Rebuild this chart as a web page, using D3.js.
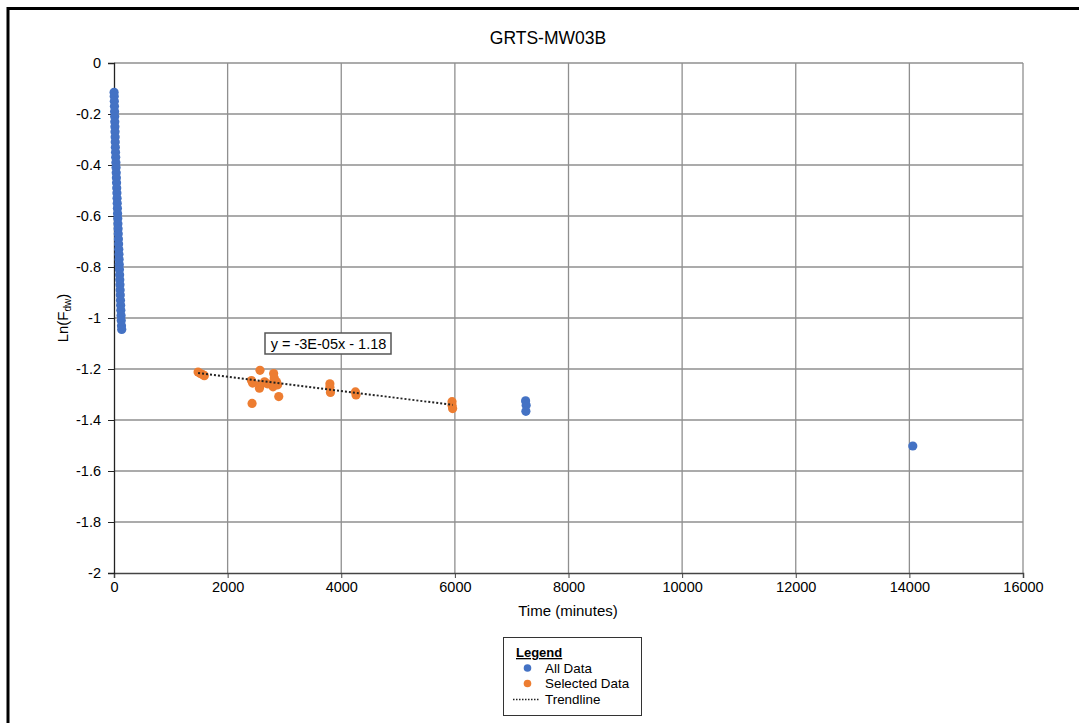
<!DOCTYPE html>
<html>
<head>
<meta charset="utf-8">
<script src="https://cdn.jsdelivr.net/npm/d3@7"></script>
<style>
  html, body { margin: 0; padding: 0; background: #fff; }
  svg { display: block; font-family: "Liberation Sans", Arial, sans-serif; }
</style>
</head>
<body>
<svg id="chart" width="1079" height="723"></svg>
<script>
// ---- Data ----
const chartTitle = "GRTS-MW03B";
const xTicks = [0, 2000, 4000, 6000, 8000, 10000, 12000, 14000, 16000];
const yTicks = [0, -0.2, -0.4, -0.6, -0.8, -1, -1.2, -1.4, -1.6, -1.8, -2];
const yTickLabels = ["0", "-0.2", "-0.4", "-0.6", "-0.8", "-1", "-1.2", "-1.4", "-1.6", "-1.8", "-2"];

// All Data: time (minutes), Ln(Fdw)
const allTime = [2, 4, 6, 8, 10, 12, 14, 16, 18, 20, 22, 24, 27, 30, 33, 36, 39, 42, 45, 48,
  51, 54, 57, 60, 63, 66, 69, 72, 75, 78, 81, 84, 87, 90, 93, 96, 99, 102, 105, 108,
  111, 114, 117, 120, 124, 128, 132, 136, 7245, 7255, 7250, 14060];
const allLn = [-0.115, -0.13, -0.15, -0.17, -0.19, -0.21, -0.23, -0.25, -0.27, -0.29, -0.31, -0.33, -0.35, -0.37, -0.39, -0.41, -0.43, -0.45, -0.47, -0.49,
  -0.51, -0.53, -0.55, -0.57, -0.59, -0.61, -0.63, -0.65, -0.67, -0.69, -0.71, -0.73, -0.75, -0.77, -0.79, -0.81, -0.83, -0.85, -0.87, -0.89,
  -0.91, -0.93, -0.95, -0.97, -0.99, -1.01, -1.03, -1.045, -1.325, -1.342, -1.366, -1.502];

// Selected Data
const selTime = [1480, 1520, 1560, 1590, 2420, 2440, 2430, 2570, 2580, 2560, 2650, 2700, 2760, 2810, 2820, 2800, 2880, 2900, 2860,
  3800, 3800, 3810, 4250, 4260, 5950, 5950, 5960];
const selLn = [-1.212, -1.218, -1.222, -1.226, -1.245, -1.255, -1.335, -1.205, -1.262, -1.275, -1.25, -1.258, -1.26, -1.218, -1.235, -1.27, -1.262, -1.308, -1.25,
  -1.258, -1.272, -1.292, -1.29, -1.302, -1.328, -1.342, -1.355];

// Trendline (as displayed)
const trendSlope = -2.8e-5;
const trendIntercept = -1.174;
const trendLabel = "y = -3E-05x - 1.18";

const legendItems = ["All Data", "Selected Data", "Trendline"];
const colors = { all: "#4472C4", sel: "#ED7D31" };

// ---- Layout ----
const svg = d3.select("#chart");
const plot = { left: 114, right: 1023, top: 63, bottom: 573 };

const x = d3.scaleLinear().domain([0, 16000]).range([plot.left, plot.right]);
const y = d3.scaleLinear().domain([-2, 0]).range([plot.bottom, plot.top]);

// outer frame (top and left edges visible)
svg.append("line").attr("x1", 7).attr("x2", 1079).attr("y1", 8.5).attr("y2", 8.5)
  .attr("stroke", "#000").attr("stroke-width", 3);
svg.append("line").attr("x1", 8).attr("x2", 8).attr("y1", 7).attr("y2", 723)
  .attr("stroke", "#000").attr("stroke-width", 3);

// title
svg.append("text").attr("x", 548).attr("y", 44).attr("text-anchor", "middle")
  .attr("font-size", 17.5).attr("fill", "#000").text(chartTitle);

// gridlines
const grid = svg.append("g");
grid.selectAll(".vg").data(xTicks.filter(d => d !== 0)).join("line")
  .attr("x1", d => x(d)).attr("x2", d => x(d))
  .attr("y1", plot.top).attr("y2", plot.bottom)
  .attr("stroke", "#8f8f8f").attr("stroke-width", 1.3);
grid.selectAll(".hg").data(yTicks.filter(d => d !== -2)).join("line")
  .attr("x1", plot.left).attr("x2", plot.right)
  .attr("y1", d => y(d)).attr("y2", d => y(d))
  .attr("stroke", "#8f8f8f").attr("stroke-width", 1.3);

// axes
const xAxis = d3.axisBottom(x).tickValues(xTicks).tickFormat(d3.format("d")).tickSize(5).tickPadding(4);
const gx = svg.append("g").attr("transform", `translate(0,${plot.bottom})`).call(xAxis);
gx.select(".domain").attr("stroke", "#444").attr("stroke-width", 1.5);
gx.selectAll(".tick line").attr("stroke", "#444");
gx.selectAll("text").attr("font-size", 14.5).attr("fill", "#000")
  .attr("font-family", "Liberation Sans, Arial, sans-serif");

const yAxis = d3.axisLeft(y).tickValues(yTicks).tickFormat((d, i) => yTickLabels[i]).tickSize(6).tickPadding(7);
const gy = svg.append("g").attr("transform", `translate(${plot.left},0)`).call(yAxis);
gy.select(".domain").attr("stroke", "#222").attr("stroke-width", 1.3);
gy.selectAll(".tick line").attr("stroke", "#222");
gy.selectAll("text").attr("font-size", 14.5).attr("fill", "#000")
  .attr("font-family", "Liberation Sans, Arial, sans-serif");

// axis labels
svg.append("text").attr("x", 568).attr("y", 616).attr("text-anchor", "middle")
  .attr("font-size", 15).text("Time (minutes)");
const yl = svg.append("text").attr("transform", "translate(68,318) rotate(-90)")
  .attr("text-anchor", "middle").attr("font-size", 15);
yl.append("tspan").text("Ln(F");
yl.append("tspan").attr("font-size", 10).attr("dy", 3).text("dw");
yl.append("tspan").attr("dy", -3).text(")");

// points
const allData = allTime.map((t, i) => ({ t, v: allLn[i] }));
const selData = selTime.map((t, i) => ({ t, v: selLn[i] }));

svg.append("g").selectAll("circle").data(allData).join("circle")
  .attr("cx", d => x(d.t)).attr("cy", d => y(d.v)).attr("r", 4.6)
  .attr("fill", colors.all);
svg.append("g").selectAll("circle").data(selData).join("circle")
  .attr("cx", d => x(d.t)).attr("cy", d => y(d.v)).attr("r", 4.6)
  .attr("fill", colors.sel);

// trendline
const tMin = d3.min(selTime), tMax = d3.max(selTime);
svg.append("line")
  .attr("x1", x(tMin)).attr("y1", y(trendSlope * tMin + trendIntercept))
  .attr("x2", x(tMax)).attr("y2", y(trendSlope * tMax + trendIntercept))
  .attr("stroke", "#222").attr("stroke-width", 2).attr("stroke-dasharray", "2,2");

// trend label box
svg.append("rect").attr("x", 265).attr("y", 333).attr("width", 126).attr("height", 21)
  .attr("fill", "#fff").attr("stroke", "#555").attr("stroke-width", 1.5);
svg.append("text").attr("x", 328.5).attr("y", 349).attr("text-anchor", "middle")
  .attr("font-size", 14.5).text(trendLabel);

// legend
const lg = svg.append("g");
lg.append("rect").attr("x", 503.5).attr("y", 637.5).attr("width", 138).attr("height", 78)
  .attr("fill", "#fff").attr("stroke", "#333").attr("stroke-width", 1);
lg.append("text").attr("x", 516).attr("y", 657).attr("font-size", 13).attr("font-weight", "bold")
  .attr("text-decoration", "underline").text("Legend");
const rowY = [668, 683.5, 699.5];
lg.append("circle").attr("cx", 527.5).attr("cy", rowY[0]).attr("r", 3.8).attr("fill", colors.all);
lg.append("circle").attr("cx", 527.5).attr("cy", rowY[1]).attr("r", 3.8).attr("fill", colors.sel);
lg.append("line").attr("x1", 513).attr("x2", 540).attr("y1", rowY[2]).attr("y2", rowY[2])
  .attr("stroke", "#222").attr("stroke-width", 1.5).attr("stroke-dasharray", "1.5,1.5");
lg.selectAll(".lt").data(legendItems).join("text")
  .attr("x", 545).attr("y", (d, i) => rowY[i] + 4.5).attr("font-size", 13.4).text(d => d);
</script>
</body>
</html>
